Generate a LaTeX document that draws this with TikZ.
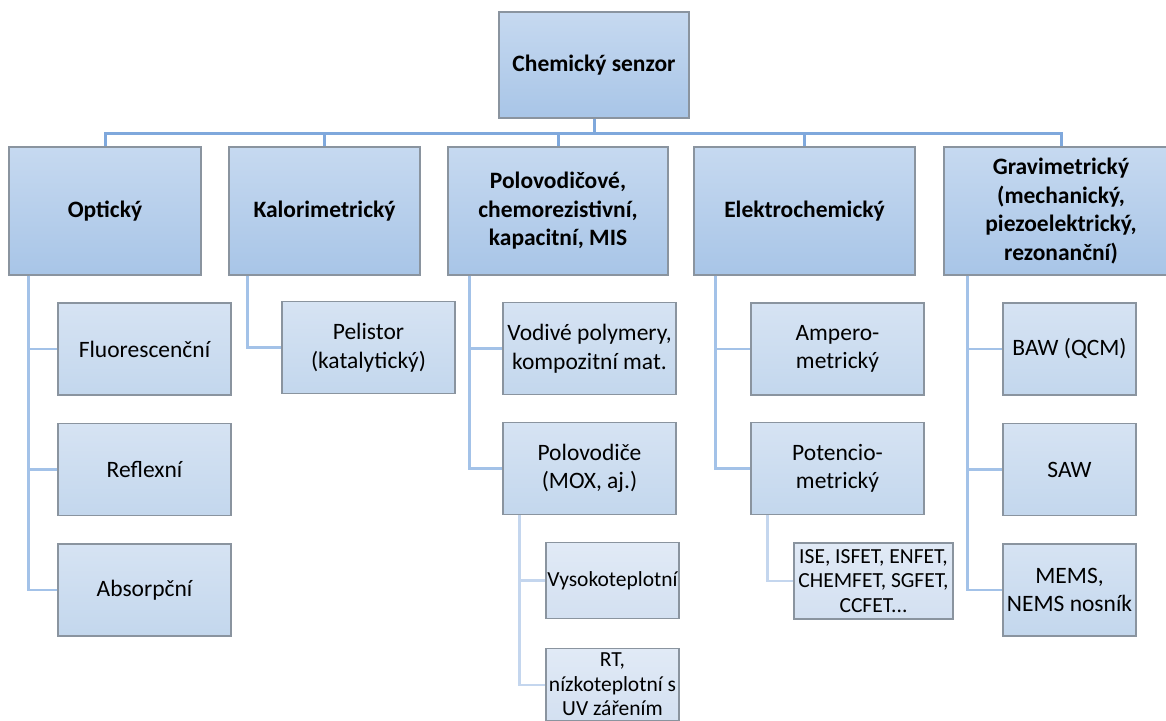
\documentclass[tikz,border=0pt]{standalone}
\usepackage{fontspec}
\setmainfont{Carlito}
\definecolor{busblue}{HTML}{7FA8DC}
\definecolor{linkblue}{HTML}{A3C2E8}
\definecolor{sublinkblue}{HTML}{C4D6EE}
\definecolor{boxgray}{HTML}{8A949F}
\tikzset{
	box/.style={draw=boxgray, line width=1.2pt, align=center, inner sep=2pt,
		font=\fontsize{23.5}{28.5}\selectfont},
	root/.style={box, top color={rgb,255:red,198;green,217;blue,240},
		bottom color={rgb,255:red,168;green,197;blue,231}, font=\fontsize{23.5}{28.5}\selectfont\bfseries},
	cat/.style={root, minimum height=128pt},
	leaf/.style={box, top color={rgb,255:red,214;green,227;blue,243},
		bottom color={rgb,255:red,195;green,215;blue,237}, minimum height=92pt, minimum width=173pt},
	subleaf/.style={box, top color={rgb,255:red,225;green,234;blue,246},
		bottom color={rgb,255:red,211;green,224;blue,241}, minimum height=76pt, inner sep=0pt,
		font=\fontsize{21.5}{24.5}\selectfont},
	bus/.style={busblue, line width=3pt},
	link/.style={linkblue, line width=2.6pt},
	sublink/.style={sublinkblue, line width=2.2pt}
}
\begin{document}
\begin{tikzpicture}[x=1pt, y=-1pt]
	\useasboundingbox (0,0) rectangle (1166,720);
	\clip (0,0) rectangle (1166,720);
	
	% root
	\node [root, minimum width=190pt, minimum height=106pt] (chem) at (594, 65) {Chemický senzor};
	
	% first level
	\node [cat, minimum width=192pt] (opt) at (105, 211) {Optický};
	\node [cat, minimum width=191pt] (kal) at (324.5, 211) {Kalorimetrický};
	\node [cat, minimum width=220pt] (pol) at (558, 211) {Polovodičové,\\ chemorezistivní,\\ kapacitní, MIS};
	\node [cat, minimum width=221pt] (ele) at (804.5, 211) {Elektrochemický};
	\node [cat, minimum width=234pt] (gra) at (1061, 211) {Gravimetrický\\ (mechanický,\\ piezoelektrický,\\ rezonanční)};
	
	\coordinate (bus) at (594, 133);
	\draw [bus] (chem.south) -- (bus);
	\foreach \n in {opt, kal, pol, ele, gra}
		\draw [bus] (bus) -| (\n.north);
	
	% optical
	\node [leaf] (fluo) at (144.5, 349) {Fluorescenční};
	\node [leaf] (refl) at (144.5, 469.5) {Reflexní};
	\node [leaf] (abso) at (144.5, 590) {Absorpční};
	\foreach \n in {fluo, refl, abso}
		\draw [link] ([xshift=20pt]opt.south west) |- (\n.west);
	
	% calorimetric
	\node [leaf] (peli) at (368.5, 347.5) {Pelistor\\ (katalytický)};
	\draw [link] ([xshift=19pt]kal.south west) |- (peli.west);
	
	% semiconductor
	\node [leaf] (vodi) at (589.5, 348.5) {Vodivé polymery,\\ kompozitní mat.};
	\node [leaf] (mox) at (589.5, 468.5) {Polovodiče\\ (MOX, aj.)};
	\foreach \n in {vodi, mox}
		\draw [link] ([xshift=22pt]pol.south west) |- (\n.west);
	
	\node [subleaf, minimum width=133pt] (vyso) at (612.5, 580.5) {Vysokoteplotní};
	\node [subleaf, minimum width=133pt, minimum height=72pt, anchor=north] (nizk) at (612.5, 648) {RT,\\ nízkoteplotní s\\ UV zářením};
	\foreach \n in {vyso, nizk}
		\draw [sublink] ([xshift=17pt]mox.south west) |- (\n.west);
	
	% electrochemical
	\node [leaf] (ampe) at (837.5, 349) {Ampero-\\ metrický};
	\node [leaf] (pote) at (837.5, 468.5) {Potencio-\\ metrický};
	\foreach \n in {ampe, pote}
		\draw [link] ([xshift=22pt]ele.south west) |- (\n.west);
	
	\node [subleaf, minimum width=159pt] (isfe) at (873.5, 581) {ISE, ISFET, ENFET,\\ CHEMFET, SGFET,\\ CCFET...};
	\draw [sublink] ([xshift=17pt]pote.south west) |- (isfe.west);
	
	% gravimetric
	\node [leaf, minimum width=133pt] (baw) at (1069.5, 349) {BAW (QCM)};
	\node [leaf, minimum width=133pt] (saw) at (1069.5, 469.5) {SAW};
	\node [leaf, minimum width=133pt] (mems) at (1069.5, 590) {MEMS,\\ NEMS nosník};
	\foreach \n in {baw, saw, mems}
		\draw [link] ([xshift=24pt]gra.south west) |- (\n.west);
	
\end{tikzpicture}
\end{document}
